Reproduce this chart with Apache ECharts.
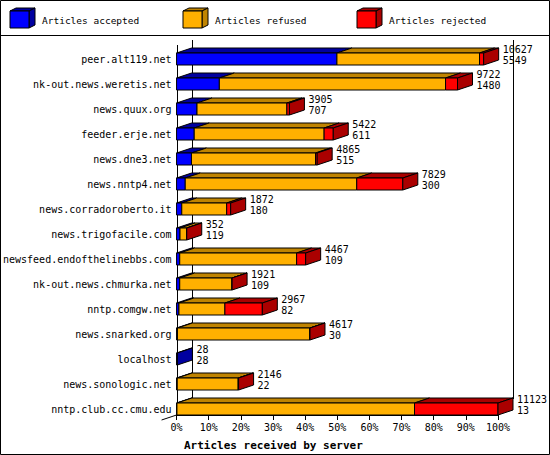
<!DOCTYPE html>
<html>
<head>
<meta charset="utf-8">
<script src="https://cdn.jsdelivr.net/npm/echarts@6/dist/echarts.min.js"></script>
<style>
html,body{margin:0;padding:0;background:#fff;}
#chart{width:550px;height:455px;}
</style>
</head>
<body>
<div id="chart"></div>
<script>
// ---- data ----
const servers = [
  'peer.alt119.net', 'nk-out.news.weretis.net', 'news.quux.org', 'feeder.erje.net',
  'news.dne3.net', 'news.nntp4.net', 'news.corradoroberto.it', 'news.trigofacile.com',
  'newsfeed.endofthelinebbs.com', 'nk-out.news.chmurka.net', 'nntp.comgw.net',
  'news.snarked.org', 'localhost', 'news.sonologic.net', 'nntp.club.cc.cmu.edu'
];
const offered  = [10627, 9722, 3905, 5422, 4865, 7829, 1872, 352, 4467, 1921, 2967, 4617, 28, 2146, 11123];
const accepted = [5549, 1480, 707, 611, 515, 300, 180, 119, 109, 109, 82, 30, 28, 22, 13];
const refused  = [4935, 7828, 3110, 4495, 4295, 5935, 1554, 230, 4045, 1810, 1590, 4583, 0, 2109, 8221];
const rejected = [143, 414, 88, 316, 55, 1594, 138, 3, 313, 2, 1295, 4, 0, 15, 2889];
const seriesNames = ['Articles accepted', 'Articles refused', 'Articles rejected'];
const xTicks = [0, 10, 20, 30, 40, 50, 60, 70, 80, 90, 100];
const xAxisTitle = 'Articles received by server';

// ---- styling ----
const FONT = 'DejaVu Sans Mono';
const FRONT = ['#0000ff', '#ffb000', '#ff0000'];
const DARK  = ['#0000a0', '#c08400', '#aa0000'];
const DX = 15, DY = 5, FACE_H = 12;

const maxTotal = Math.max.apply(null, offered);
const segs = [accepted, refused, rejected];

function lastNonZero(i) {
  let k = -1;
  for (let s = 0; s < segs.length; s++) if (segs[s][i] > 0) k = s;
  return k;
}

function buildSeriesData(s) {
  return servers.map((name, i) => {
    let start = 0;
    for (let t = 0; t < s; t++) start += segs[t][i];
    const end = start + segs[s][i];
    return [i, start / maxTotal * 100, end / maxTotal * 100, lastNonZero(i) === s ? 1 : 0];
  });
}

function makeRender(s) {
  return function (params, api) {
    const cat = api.value(0);
    const a = api.value(1), b = api.value(2), isLast = api.value(3);
    if (b - a <= 0) return null;
    const p0 = api.coord([a, cat]);
    const p1 = api.coord([b, cat]);
    const band = api.size([0, 1])[1];
    const bottom = p0[1] + band / 2;
    const top = bottom - FACE_H;
    const x0 = p0[0], x1 = p1[0];
    const children = [
      { type: 'polygon', shape: { points: [[x0, top], [x1, top], [x1 + DX, top - DY], [x0 + DX, top - DY]] },
        style: { fill: DARK[s], stroke: '#000', lineWidth: 1 } },
      { type: 'rect', shape: { x: x0, y: top, width: x1 - x0, height: FACE_H },
        style: { fill: FRONT[s], stroke: '#000', lineWidth: 1 } }
    ];
    if (isLast) {
      children.push({ type: 'polygon', shape: { points: [[x1, top], [x1 + DX, top - DY], [x1 + DX, bottom - DY], [x1, bottom]] },
        style: { fill: DARK[s], stroke: '#000', lineWidth: 1 } });
    }
    return { type: 'group', children: children };
  };
}

const labelData = servers.map((n, i) => [i, offered[i] / maxTotal * 100, offered[i], accepted[i]]);

function renderLabel(params, api) {
  const cat = api.value(0);
  const p = api.coord([api.value(1), cat]);
  const band = api.size([0, 1])[1];
  const top = p[1] + band / 2 - FACE_H;
  return {
    type: 'text',
    style: {
      text: api.value(2) + '\n' + api.value(3),
      x: p[0] + DX + 4, y: top - 9.75,
      verticalAlign: 'top', align: 'left',
      font: '10px "' + FONT + '"', lineHeight: 11.5, fill: '#000'
    }
  };
}

const chart = echarts.init(document.getElementById('chart'), null, { renderer: 'svg' });

const series = seriesNames.map((nm, s) => ({
  type: 'custom', name: nm, renderItem: makeRender(s),
  encode: { x: [1, 2], y: 0 }, data: buildSeriesData(s), clip: false, z: 3
}));
series.push({ type: 'custom', name: 'labels', renderItem: renderLabel,
  encode: { x: 1, y: 0 }, data: labelData, clip: false, z: 4, silent: true });

chart.setOption({
  animation: false,
  backgroundColor: '#fff',
  title: {
    text: xAxisTitle, left: 179, top: 435,
    textStyle: { fontFamily: FONT, fontSize: 11, fontWeight: 'bold', color: '#000' }
  },
  grid: { left: 176, right: 52, top: 40, bottom: 40, containLabel: false },
  xAxis: {
    type: 'value', min: xTicks[0], max: xTicks[xTicks.length - 1], interval: xTicks[1] - xTicks[0],
    splitLine: { show: false },
    axisLine: { show: true, lineStyle: { color: '#000', width: 1 } },
    axisTick: { show: true, length: 5, lineStyle: { color: '#000' } },
    axisLabel: { formatter: '{value}%', fontFamily: FONT, fontSize: 10, color: '#000', margin: 7 }
  },
  yAxis: {
    type: 'category', data: servers, inverse: true,
    axisLine: { show: false },
    axisTick: { show: false },
    splitLine: { show: false },
    axisLabel: { fontFamily: FONT, fontSize: 10, color: '#000', margin: 5, verticalAlign: 'top', lineHeight: 13 }
  },
  series: series
});

// decorations: frame, legend, front axis line and back wall (positions from the axes)
const xa = chart.convertToPixel({ xAxisIndex: 0 }, xTicks[0]);
const xb = chart.convertToPixel({ xAxisIndex: 0 }, xTicks[xTicks.length - 1]);
const floorY = 415, wallTop = 40, wallBottom = 399, frontTop = 45;
const axX = Math.round(xa) + 0.5;
const graphics = [
  { type: 'rect', shape: { x: 0.5, y: 0.5, width: 549, height: 454 }, style: { fill: 'none', stroke: '#000', lineWidth: 1 }, z: 10 },
  { type: 'line', shape: { x1: 0, y1: 35.5, x2: 550, y2: 35.5 }, style: { stroke: '#000', lineWidth: 1 }, z: 10 },
  { type: 'line', shape: { x1: axX, y1: frontTop, x2: axX, y2: floorY }, style: { stroke: '#000', lineWidth: 1 }, z: 1 },
  { type: 'line', shape: { x1: Math.round(xa + DX) + 0.5, y1: wallTop, x2: Math.round(xa + DX) + 0.5, y2: wallBottom }, style: { stroke: '#000', lineWidth: 1 }, z: 0 },
  { type: 'line', shape: { x1: Math.round(xb + DX) + 0.5, y1: wallTop, x2: Math.round(xb + DX) + 0.5, y2: wallBottom }, style: { stroke: '#000', lineWidth: 1 }, z: 0 },
  { type: 'line', shape: { x1: xa - DX, y1: floorY + DY, x2: xa, y2: floorY }, style: { stroke: '#000', lineWidth: 1 }, z: 0 }
];
const legendX = [10, 183, 357];
seriesNames.forEach((nm, s) => {
  const x = legendX[s], y = 11, w = 19, h = 17, d = 6, dy = 3;
  graphics.push({ type: 'polygon', shape: { points: [[x, y], [x + w, y], [x + w + d, y - dy], [x + d, y - dy]] }, style: { fill: DARK[s], stroke: '#000', lineWidth: 1 }, z: 10 });
  graphics.push({ type: 'polygon', shape: { points: [[x + w, y], [x + w + d, y - dy], [x + w + d, y + h - dy], [x + w, y + h]] }, style: { fill: DARK[s], stroke: '#000', lineWidth: 1 }, z: 10 });
  graphics.push({ type: 'rect', shape: { x: x, y: y, width: w, height: h }, style: { fill: FRONT[s], stroke: '#000', lineWidth: 1 }, z: 10 });
  graphics.push({ type: 'text', x: x + 32, y: 20, style: { text: nm, font: '9.5px "' + FONT + '"', fill: '#000', verticalAlign: 'middle', align: 'left' }, z: 10 });
});
chart.setOption({ graphic: graphics });
</script>
</body>
</html>
